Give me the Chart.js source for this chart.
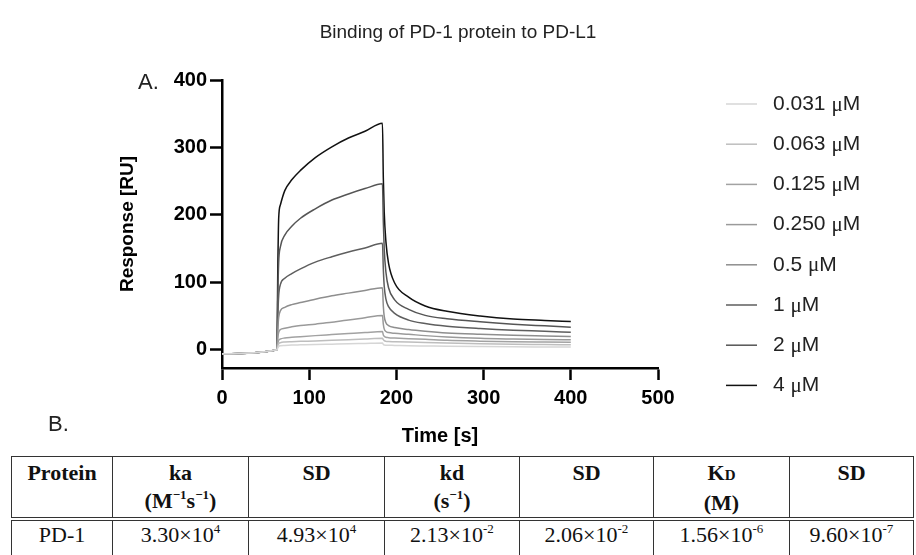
<!DOCTYPE html>
<html>
<head>
<meta charset="utf-8">
<script src="https://cdn.jsdelivr.net/npm/chart.js@4.4.1/dist/chart.umd.min.js"></script>
<style>
  html, body { margin: 0; padding: 0; background: #fff; }
  #wrap { position: relative; width: 916px; height: 555px; overflow: hidden; }
  #chart { position: absolute; left: 0; top: 0; }
  table { position: absolute; left: 11px; top: 456px; border-collapse: collapse;
          font-family: "Liberation Serif", "Times New Roman", serif; font-size: 22px; color: #111; }
  td, th { border: 1.5px solid #333; text-align: center; vertical-align: top; padding: 2px 0 0 0; line-height: 28px; }
  th { font-weight: bold; height: 52px; border-bottom: 4px double #333; }
  td { height: 60px; padding-top: 0; }
  sup { font-size: 13px; line-height: 0; vertical-align: 9px; }
  .sc { font-size: 15px; }
</style>
</head>
<body>
<div id="wrap">
  <canvas id="chart" width="916" height="450"></canvas>
  <table>
    <tr>
      <th style="width:100px">Protein</th>
      <th style="width:135px">ka<br>(M<sup>&minus;1</sup>s<sup>&minus;1</sup>)</th>
      <th style="width:135px">SD</th>
      <th style="width:134px">kd<br>(s<sup>&minus;1</sup>)</th>
      <th style="width:133px">SD</th>
      <th style="width:135px">K<span class="sc">D</span><br>(M)</th>
      <th style="width:123px">SD</th>
    </tr>
    <tr>
      <td>PD-1</td>
      <td>3.30&times;10<sup>4</sup></td>
      <td>4.93&times;10<sup>4</sup></td>
      <td>2.13&times;10<sup>-2</sup></td>
      <td>2.06&times;10<sup>-2</sup></td>
      <td>1.56&times;10<sup>-6</sup></td>
      <td>9.60&times;10<sup>-7</sup></td>
    </tr>
  </table>
</div>
<script>
// time points (s)
const timeS = [0, 63, 64, 65, 67, 72, 80, 90, 107, 126, 145, 164, 184, 185, 186, 188, 191, 198, 214, 233, 258, 296, 334, 370, 400];

// response (RU) per concentration
const r0031 = [-6, 0, 3, 5, 6, 6.5, 7, 7.3, 7.8, 8.3, 8.8, 9.4, 10, 8, 7, 6.8, 6.7, 6.5, 6, 5.7, 5.3, 4.8, 4.4, 4.2, 4];
const r0063 = [-6, 0, 6, 9, 10.5, 11.5, 12, 12.5, 13, 14, 15, 16, 17, 15, 13.5, 12.5, 12.2, 12, 11.5, 10.8, 10, 9, 8.2, 7.8, 7.4];
const r0125 = [-6, 0, 10, 14, 16, 17.5, 18.5, 19.5, 21, 22.5, 24, 25.5, 27, 22, 20, 18.5, 18, 17.5, 16.5, 15.5, 14, 12.8, 12, 11.6, 11.3];
const r0250 = [-6, 0, 18, 26, 30, 32, 34, 36, 38, 41, 44, 47.5, 51, 38, 31, 27, 25.5, 24.5, 23, 21, 19, 17, 16, 15.3, 14.8];
const r05 = [-6, 0, 30, 48, 58, 63, 67, 70, 75, 80, 84, 88, 92, 65, 50, 40, 36, 33, 30, 27.5, 25, 23, 21.5, 20.5, 19.7];
const r1 = [-6, 0, 50, 80, 97, 106, 113, 120, 130, 138, 145, 151, 158, 120, 95, 75, 64, 54, 44, 39, 35, 31.5, 29, 27.5, 26];
const r2 = [-6, 0, 80, 130, 153, 170, 183, 195, 209, 222, 231, 239, 246, 190, 150, 115, 92, 74, 60, 51, 46, 41.5, 38, 35.5, 33.5];
const r4 = [-6, 0, 120, 195, 215, 236, 252, 266, 285, 301, 314, 324, 336, 255, 205, 160, 128, 99, 78, 65, 57, 50, 45.5, 43.5, 42];

const concLabels = ['0.031', '0.063', '0.125', '0.250', '0.5', '1', '2', '4'];
const seriesVals = [r0031, r0063, r0125, r0250, r05, r1, r2, r4];
const greys = ['#d6d6d6', '#bebebe', '#a2a2a2', '#9a9a9a', '#8e8e8e', '#5e5e5e', '#555555', '#111111'];

const xTicks = [0, 100, 200, 300, 400, 500];
const yTicks = [0, 100, 200, 300, 400];

const sans = '"Liberation Sans", Arial, sans-serif';

let sets = seriesVals.map(function (vals, i) {
  return {
    label: concLabels[i] + ' \u03bcM',
    data: vals.map(function (v, k) { return { x: timeS[k], y: v }; }),
    borderColor: greys[i],
    backgroundColor: 'transparent',
    borderWidth: 1.5,
    pointRadius: 0,
    cubicInterpolationMode: 'monotone'
  };
});

// title, panel letters and the legend on the right
const extras = {
  id: 'extras',
  afterDraw: function (chart) {
    const c = chart.ctx;
    c.save();
    c.fillStyle = '#222';
    c.textBaseline = 'middle';
    c.textAlign = 'center';
    c.font = '19px ' + sans;
    c.fillText('Binding of PD-1 protein to PD-L1', 458, 33);
    c.textAlign = 'left';
    c.font = '22px ' + sans;
    c.fillText('A.', 138, 83);
    c.fillText('B.', 48, 425);

    chart.data.datasets.forEach(function (ds, i) {
      const y = 104 + i * 40.2;
      c.strokeStyle = ds.borderColor;
      c.lineWidth = 1.5;
      c.beginPath();
      c.moveTo(726, y);
      c.lineTo(757, y);
      c.stroke();
      c.fillStyle = '#222';
      c.font = '21px ' + sans;
      let txt = concLabels[i] + ' ';
      let x = 773;
      c.fillText(txt, x, y);
      x += c.measureText(txt).width;
      c.font = '21px "Liberation Serif", "Times New Roman", serif';
      c.fillText('\u03bc', x, y + 1);
      x += c.measureText('\u03bc').width;
      c.font = '21px ' + sans;
      c.fillText('M', x, y);
    });
    c.restore();
  }
};

let ctx = document.getElementById('chart').getContext('2d');
let chart = new Chart(ctx, {
  type: 'line',
  data: { datasets: sets },
  plugins: [extras],
  options: {
    responsive: false,
    animation: false,
    layout: { padding: { top: 80, left: 116, right: 258, bottom: 0 } },
    plugins: { legend: { display: false }, title: { display: false }, tooltip: { enabled: false } },
    scales: {
      x: {
        type: 'linear',
        min: 0, max: 500,
        afterFit: function (s) { s.height = 82; },
        afterBuildTicks: function (s) { s.ticks = xTicks.map(function (v) { return { value: v }; }); },
        grid: { drawOnChartArea: false, drawTicks: true, tickLength: 12, tickWidth: 2.5, tickColor: '#000' },
        border: { display: true, width: 2.5, color: '#000' },
        ticks: { color: '#000', padding: 6, maxRotation: 0, font: { family: sans, size: 20, weight: 'bold' } },
        title: { display: true, text: 'Time [s]', color: '#000', padding: { top: 0, bottom: 2 },
                 font: { family: sans, size: 20, weight: 'bold' } }
      },
      y: {
        type: 'linear',
        min: -27, max: 400,
        afterFit: function (s) { s.width = 106; },
        afterBuildTicks: function (s) { s.ticks = yTicks.map(function (v) { return { value: v }; }); },
        grid: { drawOnChartArea: false, drawTicks: true, tickLength: 12, tickWidth: 2.5, tickColor: '#000' },
        border: { display: true, width: 2.5, color: '#000' },
        ticks: { color: '#000', padding: 3, font: { family: sans, size: 20, weight: 'bold' } },
        title: { display: true, text: 'Response [RU]', color: '#000', padding: { top: 0, bottom: 0 },
                 font: { family: sans, size: 19, weight: 'bold' } }
      }
    }
  }
});
</script>
</body>
</html>
